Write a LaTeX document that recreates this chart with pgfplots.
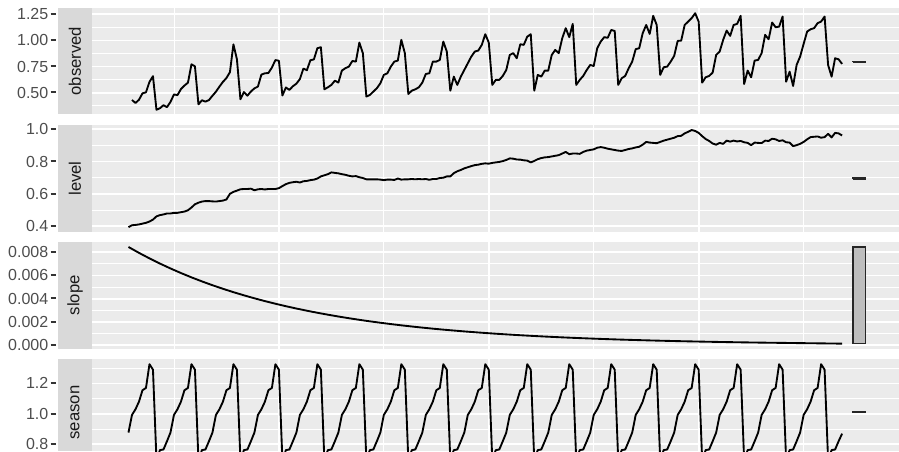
\documentclass[border=0pt]{standalone}
\usepackage{pgfplots}
\pgfplotsset{compat=1.18}
\usepackage{fontspec}
\setmainfont{Liberation Sans}
\definecolor{panelbg}{HTML}{EBEBEB}
\definecolor{stripbg}{HTML}{D9D9D9}
\definecolor{ticklab}{HTML}{4D4D4D}
\definecolor{tickc}{HTML}{333333}
\definecolor{striptext}{HTML}{1A1A1A}
\definecolor{barfill}{HTML}{BEBEBE}
\newcommand{\tk}{\hspace{1.8pt}\textcolor{tickc}{\rule[3.6pt]{4.2pt}{1.4pt}}}
\pgfplotsset{
  panel/.style={
    scale only axis, width=605.25pt,
    xmin=-10.43, xmax=220.27,
    axis line style={draw=none},
    axis background/.style={fill=panelbg},
    xtick={43,103,163}, minor xtick={13,73,133,193},
    xticklabels={},
    grid=both,
    major grid style={white, line width=1.3pt},
    minor grid style={white, line width=0.65pt},
    major tick length=0pt, minor tick length=0pt,
    tick style={draw=none},
    scaled y ticks=false,
    yticklabel style={font=\fontsize{12}{14}\selectfont, text=ticklab, anchor=east, inner sep=0pt, xshift=-26.6pt},
    clip=true,
    anchor=north west,
  },
  dataline/.style={black, line width=1.4pt, line join=round, no marks},
  rangebar/.style={fill=barfill, draw=black!85, line width=1.0pt, no marks},
}
\tikzset{striptxt/.style={rotate=90, text=striptext, font=\fontsize{12.5}{14}\selectfont, inner sep=0pt}}
\begin{document}
\begin{tikzpicture}
% ---------------- observed ----------------
\begin{axis}[panel, at={(69pt,-6pt)}, height=79.7pt, ymin=0.293, ymax=1.31,
  ytick={0.5,0.75,1,1.25}, yticklabels={0.50\tk,0.75\tk,1.00\tk,1.25\tk},
  minor ytick={0.375,0.625,0.875,1.125}]
\addplot[dataline] coordinates {
(1,0.430) (2,0.401) (3,0.432) (4,0.493) (5,0.503) (6,0.603) (7,0.658) (8,0.336) (9,0.351) (10,0.380) (11,0.361) (12,0.411)
(13,0.483) (14,0.476) (15,0.534) (16,0.568) (17,0.595) (18,0.771) (19,0.752) (20,0.388) (21,0.427) (22,0.414) (23,0.429) (24,0.470)
(25,0.509) (26,0.558) (27,0.603) (28,0.640) (29,0.696) (30,0.962) (31,0.819) (32,0.437) (33,0.506) (34,0.471) (35,0.511) (36,0.541)
(37,0.558) (38,0.673) (39,0.685) (40,0.688) (41,0.740) (42,0.812) (43,0.805) (44,0.473) (45,0.549) (46,0.527) (47,0.561) (48,0.586)
(49,0.630) (50,0.730) (51,0.715) (52,0.810) (53,0.818) (54,0.925) (55,0.935) (56,0.532) (57,0.551) (58,0.574) (59,0.615) (60,0.596)
(61,0.711) (62,0.734) (63,0.749) (64,0.803) (65,0.797) (66,0.979) (67,0.878) (68,0.462) (69,0.478) (70,0.510) (71,0.542) (72,0.590)
(73,0.670) (74,0.685) (75,0.749) (76,0.797) (77,0.807) (78,1.005) (79,0.878) (80,0.487) (81,0.519) (82,0.532) (83,0.551) (84,0.596)
(85,0.679) (86,0.685) (87,0.797) (88,0.797) (89,0.813) (90,0.989) (91,0.893) (92,0.519) (93,0.653) (94,0.574) (95,0.653) (96,0.717)
(97,0.781) (98,0.845) (99,0.893) (100,0.903) (101,0.957) (102,1.059) (103,0.979) (104,0.574) (105,0.622) (106,0.622) (107,0.660) (108,0.717)
(109,0.861) (110,0.878) (111,0.829) (112,0.963) (113,0.957) (114,1.036) (115,1.059) (116,0.519) (117,0.670) (118,0.653) (119,0.711) (120,0.711)
(121,0.861) (122,0.909) (123,0.878) (124,1.021) (125,1.117) (126,1.031) (127,1.158) (128,0.574) (129,0.622) (130,0.660) (131,0.717) (132,0.765)
(133,0.755) (134,0.925) (135,0.989) (136,1.031) (137,1.025) (138,1.100) (139,1.090) (140,0.574) (141,0.638) (142,0.660) (143,0.734) (144,0.797)
(145,0.916) (146,0.925) (147,1.069) (148,1.148) (149,1.062) (150,1.235) (151,1.148) (152,0.670) (153,0.743) (154,0.749) (155,0.797) (156,0.852)
(157,0.995) (158,0.998) (159,1.148) (160,1.180) (161,1.213) (162,1.260) (163,1.180) (164,0.596) (165,0.647) (166,0.660) (167,0.692) (168,0.861)
(169,0.893) (170,1.005) (171,1.094) (172,1.043) (173,1.148) (174,1.158) (175,1.235) (176,0.583) (177,0.711) (178,0.647) (179,0.807) (180,0.813)
(181,0.878) (182,1.053) (183,1.011) (184,1.171) (185,1.126) (186,1.132) (187,1.228) (188,0.605) (189,0.701) (190,0.564) (191,0.765) (192,0.845)
(193,0.966) (194,1.084) (195,1.107) (196,1.117) (197,1.165) (198,1.180) (199,1.228) (200,0.765) (201,0.653) (202,0.829) (203,0.819) (204,0.775)
};
\addplot[rangebar] coordinates {(207.1,0.7923) (210.6,0.7923) (210.6,0.8007) (207.1,0.8007) (207.1,0.7923)};
\end{axis}
\fill[stripbg] (43.5pt,-6pt) rectangle (69pt,-85.7pt);
\node[striptxt] at (56.25pt,-45.9pt) {observed};
% ---------------- level ----------------
\begin{axis}[panel, at={(69pt,-93.75pt)}, height=80.25pt, ymin=0.363, ymax=1.027,
  ytick={0.4,0.6,0.8,1.0}, yticklabels={0.4\tk,0.6\tk,0.8\tk,1.0\tk},
  minor ytick={0.5,0.7,0.9}]
\addplot[dataline] coordinates {
(0,0.393) (1,0.405) (2,0.407) (3,0.410) (4,0.415) (5,0.420) (6,0.428) (7,0.440) (8,0.460) (9,0.468) (10,0.472) (11,0.478)
(12,0.478) (13,0.482) (14,0.482) (15,0.486) (16,0.490) (17,0.498) (18,0.515) (19,0.535) (20,0.545) (21,0.552) (22,0.555) (23,0.555)
(24,0.553) (25,0.552) (26,0.555) (27,0.558) (28,0.565) (29,0.600) (30,0.612) (31,0.620) (32,0.628) (33,0.630) (34,0.630) (35,0.632)
(36,0.622) (37,0.628) (38,0.630) (39,0.627) (40,0.630) (41,0.630) (42,0.630) (43,0.635) (44,0.648) (45,0.660) (46,0.668) (47,0.672)
(48,0.675) (49,0.670) (50,0.678) (51,0.680) (52,0.685) (53,0.688) (54,0.695) (55,0.708) (56,0.715) (57,0.722) (58,0.733) (59,0.730)
(60,0.727) (61,0.722) (62,0.718) (63,0.712) (64,0.708) (65,0.710) (66,0.703) (67,0.698) (68,0.690) (69,0.690) (70,0.690) (71,0.690)
(72,0.688) (73,0.685) (74,0.688) (75,0.688) (76,0.686) (77,0.695) (78,0.688) (79,0.690) (80,0.690) (81,0.692) (82,0.690) (83,0.692)
(84,0.690) (85,0.692) (86,0.687) (87,0.692) (88,0.692) (89,0.698) (90,0.700) (91,0.708) (92,0.708) (93,0.728) (94,0.740) (95,0.748)
(96,0.758) (97,0.765) (98,0.772) (99,0.778) (100,0.781) (101,0.786) (102,0.789) (103,0.787) (104,0.792) (105,0.795) (106,0.798) (107,0.803)
(108,0.810) (109,0.820) (110,0.818) (111,0.813) (112,0.812) (113,0.808) (114,0.806) (115,0.795) (116,0.804) (117,0.815) (118,0.822) (119,0.826)
(120,0.828) (121,0.832) (122,0.836) (123,0.840) (124,0.850) (125,0.860) (126,0.846) (127,0.850) (128,0.850) (129,0.848) (130,0.860) (131,0.868)
(132,0.872) (133,0.876) (134,0.886) (135,0.890) (136,0.886) (137,0.880) (138,0.876) (139,0.872) (140,0.868) (141,0.866) (142,0.872) (143,0.878)
(144,0.882) (145,0.888) (146,0.892) (147,0.905) (148,0.922) (149,0.918) (150,0.916) (151,0.914) (152,0.922) (153,0.930) (154,0.936) (155,0.942)
(156,0.948) (157,0.958) (158,0.960) (159,0.975) (160,0.985) (161,0.996) (162,0.990) (163,0.978) (164,0.958) (165,0.940) (166,0.928) (167,0.912)
(168,0.905) (169,0.916) (170,0.910) (171,0.930) (172,0.924) (173,0.930) (174,0.925) (175,0.928) (176,0.920) (177,0.916) (178,0.902) (179,0.918)
(180,0.916) (181,0.915) (182,0.930) (183,0.928) (184,0.942) (185,0.938) (186,0.928) (187,0.932) (188,0.920) (189,0.918) (190,0.896) (191,0.902)
(192,0.910) (193,0.922) (194,0.938) (195,0.952) (196,0.954) (197,0.956) (198,0.948) (199,0.952) (200,0.972) (201,0.950) (202,0.978) (203,0.975)
(204,0.962)
};
\addplot[rangebar] coordinates {(207.1,0.6903) (210.6,0.6903) (210.6,0.6987) (207.1,0.6987) (207.1,0.6903)};
\end{axis}
\fill[stripbg] (43.5pt,-93.75pt) rectangle (69pt,-174pt);
\node[striptxt] at (56.25pt,-133.9pt) {level};
% ---------------- slope ----------------
\begin{axis}[panel, at={(69pt,-181.5pt)}, height=80pt, ymin=-0.00032, ymax=0.00889,
  ytick={0,0.002,0.004,0.006,0.008}, yticklabels={0.000\tk,0.002\tk,0.004\tk,0.006\tk,0.008\tk},
  minor ytick={0.001,0.003,0.005,0.007}]
\addplot[dataline] coordinates {
(0,0.008460) (3,0.007953) (6,0.007476) (9,0.007028) (12,0.006607) (15,0.006211) (18,0.005839) (21,0.005489) (24,0.005160)
(27,0.004851) (30,0.004560) (33,0.004287) (36,0.004030) (39,0.003788) (42,0.003561) (45,0.003348) (48,0.003147) (51,0.002959)
(54,0.002781) (57,0.002615) (60,0.002458) (63,0.002311) (66,0.002172) (69,0.002042) (72,0.001920) (75,0.001805) (78,0.001697)
(81,0.001595) (84,0.001499) (87,0.001409) (90,0.001325) (93,0.001246) (96,0.001171) (99,0.001101) (102,0.001035) (105,0.000973)
(108,0.000915) (111,0.000860) (114,0.000808) (117,0.000760) (120,0.000714) (123,0.000671) (126,0.000631) (129,0.000593) (132,0.000558)
(135,0.000524) (138,0.000493) (141,0.000463) (144,0.000436) (147,0.000410) (150,0.000385) (153,0.000362) (156,0.000340) (159,0.000320)
(162,0.000301) (165,0.000283) (168,0.000266) (171,0.000250) (174,0.000235) (177,0.000221) (180,0.000208) (183,0.000195) (186,0.000184)
(189,0.000173) (192,0.000160) (195,0.000150) (198,0.000138) (201,0.000127) (204,0.000115)
};
\addplot[rangebar] coordinates {(207.1,0.000115) (210.6,0.000115) (210.6,0.00846) (207.1,0.00846) (207.1,0.000115)};
\end{axis}
\fill[stripbg] (43.5pt,-181.5pt) rectangle (69pt,-261.5pt);
\node[striptxt] at (56.25pt,-221.5pt) {slope};
% ---------------- season ----------------
\begin{axis}[panel, at={(69pt,-269.25pt)}, height=69pt, ymin=0.756, ymax=1.36,
  ytick={0.8,1.0,1.2}, yticklabels={0.8\tk,1.0\tk,1.2\tk},
  minor ytick={0.7,0.9,1.1,1.3}]
\addplot[dataline] coordinates {
(0,0.877) (1,0.993) (2,1.030) (3,1.080) (4,1.155) (5,1.170) (6,1.326) (7,1.290) (8,0.696) (9,0.762) (10,0.766) (11,0.820)
(12,0.877) (13,0.993) (14,1.030) (15,1.080) (16,1.155) (17,1.170) (18,1.326) (19,1.290) (20,0.696) (21,0.762) (22,0.766) (23,0.820)
(24,0.877) (25,0.993) (26,1.030) (27,1.080) (28,1.155) (29,1.170) (30,1.326) (31,1.290) (32,0.696) (33,0.762) (34,0.766) (35,0.820)
(36,0.877) (37,0.993) (38,1.030) (39,1.080) (40,1.155) (41,1.170) (42,1.326) (43,1.290) (44,0.696) (45,0.762) (46,0.766) (47,0.820)
(48,0.877) (49,0.993) (50,1.030) (51,1.080) (52,1.155) (53,1.170) (54,1.326) (55,1.290) (56,0.696) (57,0.762) (58,0.766) (59,0.820)
(60,0.877) (61,0.993) (62,1.030) (63,1.080) (64,1.155) (65,1.170) (66,1.326) (67,1.290) (68,0.696) (69,0.762) (70,0.766) (71,0.820)
(72,0.877) (73,0.993) (74,1.030) (75,1.080) (76,1.155) (77,1.170) (78,1.326) (79,1.290) (80,0.696) (81,0.762) (82,0.766) (83,0.820)
(84,0.877) (85,0.993) (86,1.030) (87,1.080) (88,1.155) (89,1.170) (90,1.326) (91,1.290) (92,0.696) (93,0.762) (94,0.766) (95,0.820)
(96,0.877) (97,0.993) (98,1.030) (99,1.080) (100,1.155) (101,1.170) (102,1.326) (103,1.290) (104,0.696) (105,0.762) (106,0.766) (107,0.820)
(108,0.877) (109,0.993) (110,1.030) (111,1.080) (112,1.155) (113,1.170) (114,1.326) (115,1.290) (116,0.696) (117,0.762) (118,0.766) (119,0.820)
(120,0.877) (121,0.993) (122,1.030) (123,1.080) (124,1.155) (125,1.170) (126,1.326) (127,1.290) (128,0.696) (129,0.762) (130,0.766) (131,0.820)
(132,0.877) (133,0.993) (134,1.030) (135,1.080) (136,1.155) (137,1.170) (138,1.326) (139,1.290) (140,0.696) (141,0.762) (142,0.766) (143,0.820)
(144,0.877) (145,0.993) (146,1.030) (147,1.080) (148,1.155) (149,1.170) (150,1.326) (151,1.290) (152,0.696) (153,0.762) (154,0.766) (155,0.820)
(156,0.877) (157,0.993) (158,1.030) (159,1.080) (160,1.155) (161,1.170) (162,1.326) (163,1.290) (164,0.696) (165,0.762) (166,0.766) (167,0.820)
(168,0.877) (169,0.993) (170,1.030) (171,1.080) (172,1.155) (173,1.170) (174,1.326) (175,1.290) (176,0.696) (177,0.762) (178,0.766) (179,0.820)
(180,0.877) (181,0.993) (182,1.030) (183,1.080) (184,1.155) (185,1.170) (186,1.326) (187,1.290) (188,0.696) (189,0.762) (190,0.766) (191,0.820)
(192,0.877) (193,0.993) (194,1.030) (195,1.080) (196,1.155) (197,1.170) (198,1.326) (199,1.290) (200,0.696) (201,0.762) (202,0.766) (203,0.820)
(204,0.870)
};
\addplot[rangebar] coordinates {(207.1,1.0068) (210.6,1.0068) (210.6,1.0152) (207.1,1.0152) (207.1,1.0068)};
\end{axis}
\fill[stripbg] (43.5pt,-269.25pt) rectangle (69pt,-338.25pt);
\node[striptxt] at (56.25pt,-309.4pt) {season};
\pgfresetboundingbox
\useasboundingbox (0,0) rectangle (674.25pt,-338.25pt);
\end{tikzpicture}
\end{document}
